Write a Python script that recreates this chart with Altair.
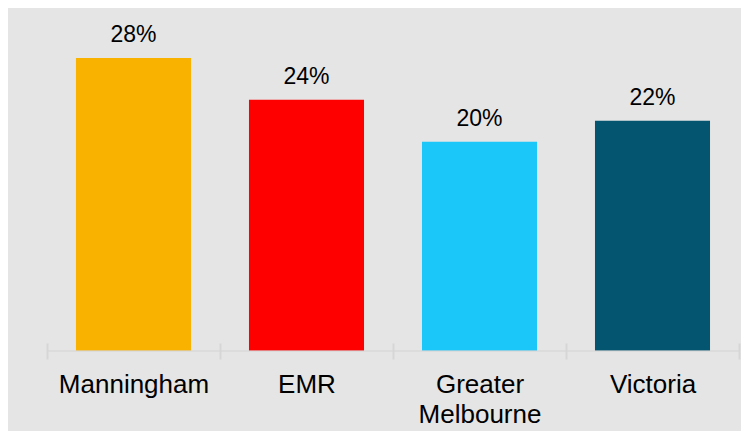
import altair as alt
import pandas as pd

categories = ["Manningham", "EMR", "Greater Melbourne", "Victoria"]
values = [0.28, 0.24, 0.20, 0.22]
colors = ["#F9B200", "#FF0000", "#1BC6F9", "#045670"]

df = pd.DataFrame({"region": categories, "share": values})

FONT = "Liberation Sans"

x_enc = alt.X(
    "region:N",
    sort=categories,
    title=None,
    scale=alt.Scale(paddingInner=0, paddingOuter=0),
    axis=alt.Axis(
        domain=False,
        ticks=True,
        tickBand="extent",
        tickSize=16,
        tickWidth=2,
        tickColor="#D6D6D6",
        offset=-8,
        labelAngle=0,
        labelFont=FONT,
        labelFontSize=26,
        labelColor="#000000",
        labelPadding=12,
        labelLineHeight=30,
        labelExpr="split(datum.label, ' ')",
        grid=False,
    ),
)
y_enc = alt.Y("share:Q", scale=alt.Scale(domain=[0, 0.3]), axis=None)

base = alt.Chart(df)

bars = base.mark_bar(width=alt.RelativeBandSize(0.665)).encode(
    x=x_enc,
    y=y_enc,
    color=alt.Color("region:N", scale=alt.Scale(domain=categories, range=colors), legend=None),
)

labels = base.mark_text(
    baseline="alphabetic", dy=-16, font=FONT, fontSize=23, color="#000000"
).encode(
    x=alt.X("region:N", sort=categories),
    y="share:Q",
    text=alt.Text("share:Q", format=".0%"),
)

domain_line = alt.Chart(pd.DataFrame({"zero": [0.0]})).mark_rule(
    color="#D6D6D6", strokeWidth=2, opacity=0.6
).encode(y=alt.Y("zero:Q"))

chart = alt.layer(bars, domain_line, labels).properties(
    width=692,
    height=314,
    background="#E5E5E5",
    padding={"left": 39, "top": 29, "right": 2, "bottom": 80},
    autosize=alt.AutoSizeParams(type="none"),
).configure_view(stroke=None)

chart.save("out.html", embed_options={"renderer": "svg", "actions": False})
